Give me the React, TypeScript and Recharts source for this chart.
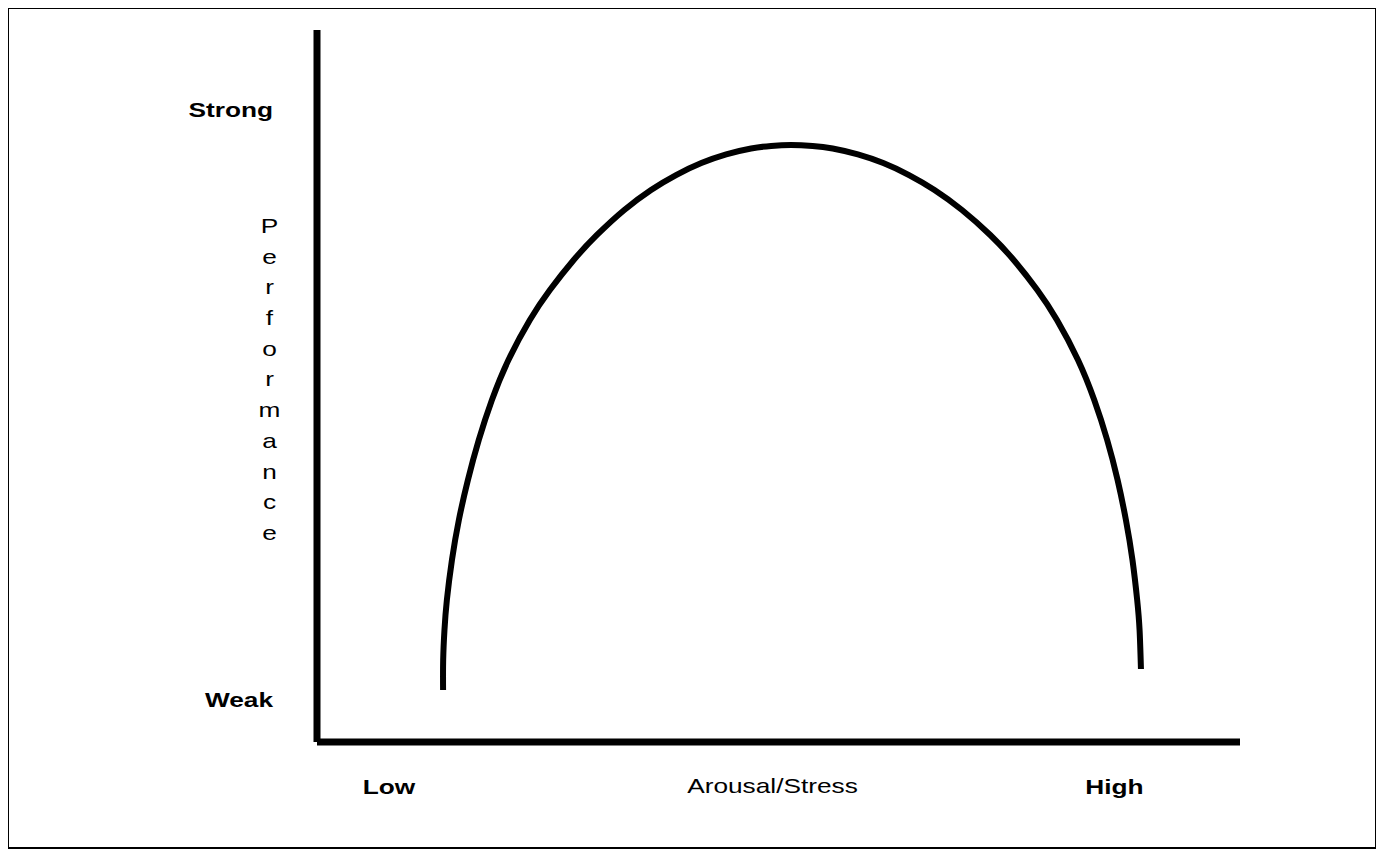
import { Label, Line, LineChart, XAxis, YAxis } from "recharts";

// curve (x: arousal 0-100, y: performance 0-100)
const arousal = [
  13.66, 13.67, 13.81, 14.07, 14.62, 15.37, 16.35, 17.53, 18.95, 20.74, 23.06,
  25.23, 27.81, 30.33, 33.29, 36.19, 38.9, 41.64, 44.33, 47.03, 49.2, 51.35,
  53.69, 55.87, 58.6, 61.35, 64.14, 66.9, 69.88, 72.94, 75.48, 78.04, 80.17,
  82.45, 84.21, 85.61, 86.74, 87.64, 88.35, 88.86, 89.12, 89.27,
];
const performance = [
  7.3, 11.52, 15.73, 19.94, 25.56, 31.18, 36.8, 42.42, 48.03, 53.65, 59.27,
  63.48, 67.7, 71.21, 74.72, 77.53, 79.63, 81.31, 82.53, 83.36, 83.72, 83.85,
  83.72, 83.36, 82.53, 81.31, 79.63, 77.53, 74.72, 71.21, 67.7, 63.48, 59.27,
  53.65, 48.03, 42.42, 36.8, 31.18, 25.56, 19.94, 15.73, 10.25,
];

const xTickValues = [7.8, 86.4];
const xTickLabels = ["Low", "High"];
const yTickValues = [5.9, 88.8];
const yTickLabels = ["Weak", "Strong"];
const xTitle = "Arousal/Stress";
const yTitle = "Performance";

const data = arousal.map((x, i) => ({ x, y: performance[i] }));

const FONT = '"Liberation Sans", Arial, sans-serif';
const FONT_SIZE = 21;
// the source picture is stretched sideways, text included
const STRETCH = 1.25;

function XTick(props: any) {
  const { x, y, payload } = props;
  const label = xTickLabels[xTickValues.indexOf(payload.value)] ?? "";
  return (
    <text
      transform={`translate(${x},${y + 52}) scale(${STRETCH},1)`}
      textAnchor="middle"
      fontFamily={FONT}
      fontSize={FONT_SIZE}
      fontWeight="bold"
      fill="#000"
    >
      {label}
    </text>
  );
}

function YTick(props: any) {
  const { x, y, payload } = props;
  const label = yTickLabels[yTickValues.indexOf(payload.value)] ?? "";
  return (
    <text
      transform={`translate(${x},${y + 7.5}) scale(${STRETCH},1)`}
      textAnchor="end"
      fontFamily={FONT}
      fontSize={FONT_SIZE}
      fontWeight="bold"
      fill="#000"
    >
      {label}
    </text>
  );
}

function XTitle(props: any) {
  const vb = props.viewBox ?? { x: 308, y: 733, width: 923, height: 105 };
  return (
    <text
      transform={`translate(${vb.x + vb.width / 2 - 6},${vb.y + 51}) scale(${STRETCH},1)`}
      textAnchor="middle"
      fontFamily={FONT}
      fontSize={FONT_SIZE}
      fill="#000"
    >
      {xTitle}
    </text>
  );
}

function YTitle(props: any) {
  const vb = props.viewBox ?? { x: 0, y: 21, width: 308, height: 712 };
  const letters = yTitle.split("");
  const mid = vb.y + vb.height / 2;
  const step = 30.7;
  return (
    <text
      transform={`translate(${vb.x + vb.width - 47.5},0) scale(${STRETCH},1)`}
      textAnchor="middle"
      fontFamily={FONT}
      fontSize={FONT_SIZE}
      fill="#000"
    >
      {letters.map((ch, i) => (
        <tspan key={i} x={0} y={mid + (i - (letters.length - 1) / 2) * step + 0.5}>
          {ch}
        </tspan>
      ))}
    </text>
  );
}

export default function App() {
  return (
    <div
      style={{
        width: 1370,
        height: 842,
        boxSizing: "border-box",
        border: "2px solid #000",
        marginLeft: -1,
        marginTop: -1,
        background: "#fff",
      }}
    >
      <LineChart
        width={1366}
        height={838}
        data={data}
        margin={{ top: 21, right: 135, left: 0, bottom: 0 }}
      >
        <XAxis
          dataKey="x"
          type="number"
          domain={[0, 100]}
          ticks={xTickValues}
          tick={<XTick />}
          tickLine={false}
          tickSize={0}
          tickMargin={0}
          height={105}
          axisLine={{ stroke: "#000", strokeWidth: 7 }}
        >
          <Label content={<XTitle />} />
        </XAxis>
        <YAxis
          type="number"
          domain={[0, 100]}
          ticks={yTickValues}
          tick={<YTick />}
          tickLine={false}
          tickSize={0}
          tickMargin={44}
          width={308}
          axisLine={{ stroke: "#000", strokeWidth: 7 }}
        >
          <Label content={<YTitle />} />
        </YAxis>
        <Line
          dataKey="y"
          type="natural"
          stroke="#000"
          strokeWidth={6}
          dot={false}
          activeDot={false}
          isAnimationActive={false}
        />
      </LineChart>
    </div>
  );
}
